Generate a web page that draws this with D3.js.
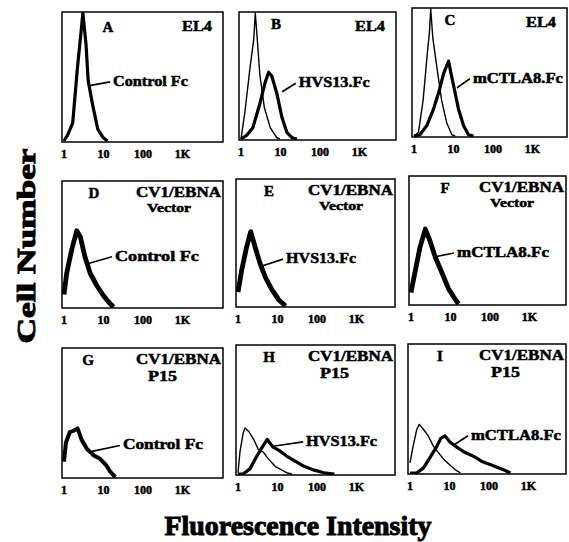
<!DOCTYPE html>
<html>
<head>
<meta charset="utf-8">
<script src="https://cdn.jsdelivr.net/npm/d3@7/dist/d3.min.js"></script>
<style>
	body { margin: 0; background: #fff; }
	svg text { font-family: "Liberation Serif", "Times New Roman", serif; font-weight: bold; fill: #000; stroke: #000; stroke-width: 0.5px; }
	svg text.title { stroke-width: 1px; }
</style>
</head>
<body>
<svg id="fig" width="569" height="542"></svg>
<script>
// ---- data: [intensity, cell count (% of panel height)] ----
var panelLetters = ["A", "B", "C", "D", "E", "F", "G", "H", "I"];
var cellLines = [["EL4"], ["EL4"], ["EL4"],
	["CV1/EBNA", "Vector"], ["CV1/EBNA", "Vector"], ["CV1/EBNA", "Vector"],
	["CV1/EBNA", "P15"], ["CV1/EBNA", "P15"], ["CV1/EBNA", "P15"]];
var reagents = ["Control Fc", "HVS13.Fc", "mCTLA8.Fc"];
var xTicks = [1, 10, 100, 1000];
var xTickLabels = ["1", "10", "100", "1K"];

var stainA = [[1,0],[1.25,5],[1.66,14],[2.2,58],[2.7,85],[3.0,100],[3.6,76],[4.1,47],[5.4,27],[7.2,9],[9.6,3],[12.6,0]];
var bgB = [[1,0],[1.26,22],[1.7,57],[2.1,79],[2.3,100],[2.6,78],[3.0,51],[3.9,25],[5.5,9],[8.1,1],[9.6,0]];
var stainB = [[1,0],[1.4,3],[2.0,9],[3.0,28],[4.1,45],[5.0,53],[6.0,50],[8.1,36],[10.9,17],[14.6,5],[19.5,1],[26,0]];
var bgC = [[1,0],[1.3,3],[1.7,28],[2.2,67],[2.45,81],[2.65,100],[3.0,77],[3.8,54],[5.0,28],[6.8,10],[9.1,1],[11,0]];
var stainC = [[1,0],[1.4,1],[2.1,8],[3.1,21],[4.2,34],[5.6,49],[7.5,59],[9.1,46],[11,34],[13.4,21],[18,8],[24,1],[32,0]];
var stainD = [[1,10],[1.17,27],[1.57,46],[2.1,61],[2.6,56],[3.4,40],[4.6,27],[6.8,17],[10,9],[13.4,4],[18,0]];
var stainE = [[1,11],[1.25,29],[1.66,47],[2.1,59],[2.7,47],[3.6,34],[4.9,23],[7.2,13],[10.7,5],[16,0]];
var stainF = [[1,9],[1.26,25],[1.7,45],[2.3,59],[3.0,50],[4.1,37],[6,25],[8.9,12],[13,4],[16,0]];
var stainG = [[1,12],[1.12,27],[1.4,35],[1.7,36],[2.2,38],[2.8,29],[3.8,22],[5.6,17],[8.3,14],[11.8,9],[14.9,4],[20,0]];
var bgH = [[1,1],[1.12,17],[1.35,32],[1.5,36],[1.9,33],[2.5,27],[3.3,19],[4.4,17],[5.8,12],[8.7,6],[13,3],[17,1],[23,0]];
var stainH = [[1,0],[1.35,0],[2.0,4],[3.0,14],[4.3,22],[5.5,27],[7.7,21],[11.5,18],[17,14],[28,10],[47,6],[85,3],[150,1],[275,0]];
var bgI = [[1,8],[1.2,21],[1.48,34],[1.72,38],[2.2,34],[2.9,29],[3.9,21],[5.2,16],[7,11],[10.4,6],[14.8,2],[19,0]];
var stainI = [[1,0],[1.48,0],[2.2,4],[3.2,12],[4.6,20],[6,27],[7.7,29],[10.4,24],[15.5,20],[25,16],[41,13],[66,9],[120,6],[215,3],[350,0]];

// where each reagent label sits and where its pointer touches the curve, [intensity, count]
var labelAt = [[17.4,43],[29,41],[31,42],[19.5,37],[16.5,34],[14.6,37],[31,21.5],[53,22],[35,26]];
var pointerFrom = [[4.1,43],[11,37.5],[12.3,38],[3.4,34],[3.4,31],[3.8,37],[5.1,20],[6.9,21.5],[12.3,21.5]];

var stains = [stainA, stainB, stainC, stainD, stainE, stainF, stainG, stainH, stainI];
var controls = [null, bgB, bgC, null, null, null, null, bgH, bgI];

// ---- layout (the scan is slightly skewed, so each box has its own edges) ----
var boxes = [
	[62, 12, 223, 142], [239, 12, 396, 140], [412, 8, 567, 137],
	[62, 181, 223, 308], [236, 179, 395, 307], [409, 176, 566, 305],
	[62, 348, 223, 478], [236, 345, 395, 475], [408, 344, 566, 474]
];
var letterDx = [46, 37, 38, 32, 33, 36, 26, 33, 32];
var stainWidth = [3.2, 3.2, 3.2, 4.8, 4.8, 4.8, 4, 3.2, 3.2];
var labelLen = [75, 71, 90, 84, 70, 92, 80, 71, 90];

var svg = d3.select("#fig");
svg.append("rect").attr("width", 569).attr("height", 542).attr("fill", "#fff");

function drawPanel(i) {
	var b = boxes[i],
		left = b[0], top = b[1], right = b[2], bottom = b[3];
	var x = d3.scaleLog().domain([1, 10000]).range([left + 2, left + 160]);
	var y = d3.scaleLinear().domain([0, 100]).range([bottom - 1, top + 1]);
	var g = svg.append("g").attr("class", "panel_" + panelLetters[i]);

	g.append("clipPath").attr("id", "clip" + i)
		.append("rect")
		.attr("x", left).attr("y", top)
		.attr("width", right - left).attr("height", bottom - top);

	var line = d3.line()
		.x(function(d) { return x(d[0]); })
		.y(function(d) { return y(d[1]); });

	var plot = g.append("g").attr("clip-path", "url(#clip" + i + ")");
	if (controls[i]) {
		plot.append("path")
			.attr("d", line(controls[i]))
			.attr("fill", "none")
			.attr("stroke", "#000")
			.attr("stroke-width", 1.4)
			.attr("stroke-linejoin", "round");
	}
	plot.append("path")
		.attr("d", line(stains[i]))
		.attr("fill", "none")
		.attr("stroke", "#000")
		.attr("stroke-width", stainWidth[i])
		.attr("stroke-linejoin", "round");

	// frame
	g.append("rect")
		.attr("x", left).attr("y", top)
		.attr("width", right - left).attr("height", bottom - top)
		.attr("fill", "none")
		.attr("stroke", "#000")
		.attr("stroke-width", 1.5);

	// x tick labels
	g.selectAll(".tick")
		.data(xTicks)
		.enter().append("text")
		.attr("x", function(d) { return x(d); })
		.attr("y", bottom + 16)
		.attr("text-anchor", "middle")
		.attr("font-size", 12)
		.text(function(d, k) { return xTickLabels[k]; });

	// panel letter
	g.append("text")
		.attr("x", left + letterDx[i])
		.attr("y", top + 17 + (i == 0 ? 3 : 0))
		.attr("text-anchor", "middle")
		.attr("font-size", 15)
		.text(panelLetters[i]);

	// cell line
	var cl = cellLines[i];
	if (cl.length == 1) {
		g.append("text")
			.attr("x", right - 11)
			.attr("y", top + 19)
			.attr("text-anchor", "end")
			.attr("font-size", 14)
			.attr("textLength", 30)
			.attr("lengthAdjust", "spacingAndGlyphs")
			.text(cl[0]);
	} else {
		g.append("text")
			.attr("x", right - 87)
			.attr("y", top + 16)
			.attr("font-size", 14)
			.attr("textLength", 85)
			.attr("lengthAdjust", "spacingAndGlyphs")
			.text(cl[0]);
		if (cl[1] == "Vector") {
			g.append("text")
				.attr("x", right - 76)
				.attr("y", top + 31)
				.attr("font-size", 13)
				.attr("textLength", 44)
				.attr("lengthAdjust", "spacingAndGlyphs")
				.text(cl[1]);
		} else {
			g.append("text")
				.attr("x", right - 75)
				.attr("y", top + 33)
				.attr("font-size", 14)
				.attr("textLength", 29)
				.attr("lengthAdjust", "spacingAndGlyphs")
				.text(cl[1]);
		}
	}

	// reagent label with pointer
	var lx = x(labelAt[i][0]), ly = y(labelAt[i][1]);
	g.append("line")
		.attr("x1", x(pointerFrom[i][0])).attr("y1", y(pointerFrom[i][1]))
		.attr("x2", lx - 3).attr("y2", ly - 4)
		.attr("stroke", "#000")
		.attr("stroke-width", 1.7);
	g.append("text")
		.attr("x", lx)
		.attr("y", ly)
		.attr("font-size", 14)
		.attr("textLength", labelLen[i])
		.attr("lengthAdjust", "spacingAndGlyphs")
		.text(reagents[i % 3]);
}

for (var i = 0; i < 9; i++) {
	drawPanel(i);
}

// axis titles
svg.append("text")
	.attr("class", "title")
	.attr("x", 298)
	.attr("y", 535)
	.attr("text-anchor", "middle")
	.attr("font-size", 28)
	.attr("textLength", 267)
	.attr("lengthAdjust", "spacingAndGlyphs")
	.text("Fluorescence Intensity");

svg.append("text")
	.attr("class", "title")
	.attr("transform", "translate(35,246) rotate(-90)")
	.attr("text-anchor", "middle")
	.attr("font-size", 26)
	.attr("textLength", 195)
	.attr("lengthAdjust", "spacingAndGlyphs")
	.text("Cell Number");
</script>
</body>
</html>
